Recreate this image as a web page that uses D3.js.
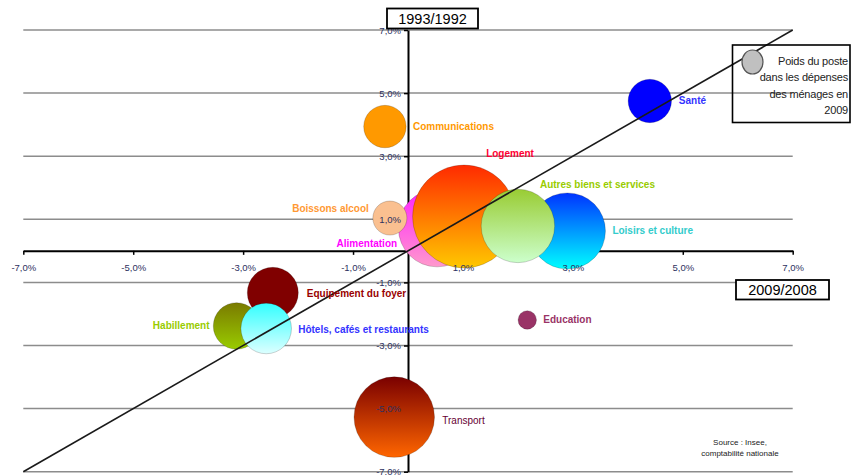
<!DOCTYPE html>
<html>
<head>
<meta charset="utf-8">
<script src="https://cdn.jsdelivr.net/npm/d3@7"></script>
<style>
  html, body { margin: 0; padding: 0; background: #fff; }
  svg { display: block; font-family: "Liberation Sans", Arial, sans-serif; }
</style>
</head>
<body>
<svg id="chart" width="853" height="475"></svg>
<script>
// Évolution des postes de consommation des ménages
// x : évolution 2009/2008 (%), y : évolution 1993/1992 (%), taille : poids du poste en 2009
const categories = [
  "Communications", "Santé", "Loisirs et culture", "Alimentation", "Logement",
  "Boissons alcool", "Autres biens et services", "Equipement du foyer",
  "Habillement", "Hôtels, cafés et restaurants", "Education", "Transport"
];
const evol2009 = [-0.42, 4.40, 2.90, 0.53, 1.02, -0.33, 2.00, -2.46, -3.12, -2.58, 2.17, -0.25];
const evol1993 = [3.94, 4.75, 0.63, 0.72, 1.09, 1.04, 0.79, -1.33, -2.38, -2.46, -2.19, -5.27];
const poids2009 = [4.5, 4.7, 14.5, 15.0, 26.5, 2.9, 13.5, 6.5, 5.4, 6.4, 0.85, 16.2];

const xTickValues = [-7, -5, -3, -1, 1, 3, 5, 7];
const yTickValues = [-7, -5, -3, -1, 1, 3, 5, 7];
const legendLines = ["Poids du poste", "dans les dépenses", "des ménages en", "2009"];
const sourceLines = ["Source : Insee,", "comptabilité nationale"];

const rows = categories.map((c, i) => ({ cat: c, x: evol2009[i], y: evol1993[i], w: poids2009[i] }));

// Apparence de chaque bulle : dégradé vertical (haut, bas) ou couleur unie
const bubbleFill = {
  "Communications": ["#ff9900"],
  "Santé": ["#0000ff"],
  "Loisirs et culture": ["#0033ff", "#00ffff"],
  "Alimentation": ["#ff22ff", "#ff99cc"],
  "Logement": ["#ff2a00", "#ffc800"],
  "Boissons alcool": ["#fac090"],
  "Autres biens et services": ["#99cc33", "#ccffcc"],
  "Equipement du foyer": ["#800000"],
  "Habillement": ["#7a7a00", "#99cc00"],
  "Hôtels, cafés et restaurants": ["#33ffff", "#ddffff"],
  "Education": ["#993366"],
  "Transport": ["#7a0000", "#ff6600"]
};
const labelStyle = {
  "Communications": { color: "#ff9900", anchor: "start", dx: 28, dy: 0 },
  "Santé": { color: "#3333ff", anchor: "start", dx: 29, dy: 0 },
  "Loisirs et culture": { color: "#33cccc", anchor: "start", dx: 45, dy: 0 },
  "Alimentation": { color: "#ff00ff", anchor: "end", dx: -40, dy: 15 },
  "Logement": { color: "#ff0033", anchor: "middle", dx: 46, dy: -63 },
  "Boissons alcool": { color: "#ff9933", anchor: "end", dx: -21, dy: -10 },
  "Autres biens et services": { color: "#99cc00", anchor: "start", dx: 22, dy: -41 },
  "Equipement du foyer": { color: "#990000", anchor: "start", dx: 34, dy: 1 },
  "Habillement": { color: "#99cc00", anchor: "end", dx: -27, dy: 0 },
  "Hôtels, cafés et restaurants": { color: "#3333ff", anchor: "start", dx: 32, dy: 1 },
  "Education": { color: "#993366", anchor: "start", dx: 16, dy: 0 },
  "Transport": { color: "#660033", anchor: "start", dx: 48, dy: 3, weight: "normal" }
};

const svg = d3.select("#chart");
const x = d3.scaleLinear().domain([-7, 7]).range([23.3, 792.7]);
const y = d3.scaleLinear().domain([-7, 7]).range([471.7, 30]);
const r = d3.scaleSqrt().domain([0, 100]).range([0, 100]);

const fr = d3.formatLocale({ decimal: ",", thousands: " ", grouping: [3], currency: ["", " €"], minus: "-" });
const pct = v => fr.format(".1f")(v) + "%";

// Dégradés
const defs = svg.append("defs");
Object.entries(bubbleFill).forEach(([cat, cols], i) => {
  if (cols.length < 2) return;
  const g = defs.append("linearGradient").attr("id", "grad" + i)
    .attr("x1", 0).attr("y1", 0).attr("x2", 0).attr("y2", 1);
  g.append("stop").attr("offset", "0%").attr("stop-color", cols[0]);
  g.append("stop").attr("offset", "100%").attr("stop-color", cols[1]);
});
const fillOf = cat => {
  const cols = bubbleFill[cat];
  if (cols.length < 2) return cols[0];
  return "url(#grad" + Object.keys(bubbleFill).indexOf(cat) + ")";
};

// Quadrillage horizontal
svg.append("g").selectAll("line").data(yTickValues).join("line")
  .attr("x1", x(-7)).attr("x2", x(7))
  .attr("y1", d => y(d)).attr("y2", d => y(d))
  .attr("stroke", "#8c8c8c").attr("stroke-width", 1.5);

// Axes (traits)
const xAxis = d3.axisBottom(x).tickValues(xTickValues).tickSize(4).tickSizeOuter(0).tickPadding(9).tickFormat(pct);
const yAxis = d3.axisLeft(y).tickValues(yTickValues).tickSize(4).tickSizeOuter(0).tickPadding(3).tickFormat(pct);

const gx = svg.append("g").attr("transform", `translate(0,${y(0)})`).call(xAxis);
const gy = svg.append("g").attr("transform", `translate(${x(0)},0)`).call(yAxis);
[gx, gy].forEach(g => {
  g.select(".domain").attr("stroke", "#000").attr("stroke-width", 2);
  g.selectAll(".tick line").attr("stroke", "#000").attr("stroke-width", 1.5);
});

// Bulles
svg.append("g").selectAll("circle").data(rows).join("circle")
  .attr("cx", d => x(d.x)).attr("cy", d => y(d.y)).attr("r", d => r(d.w))
  .attr("fill", d => fillOf(d.cat))
  .attr("stroke", "rgba(0,0,0,0.18)").attr("stroke-width", 1);

// Étiquettes des graduations au-dessus des bulles
const labelsTop = svg.append("g")
  .attr("font-size", 9.5).attr("fill", "#2e3160");
[gx, gy].forEach(g => {
  g.selectAll(".tick text").each(function () {
    const t = d3.select(this);
    const tick = d3.select(this.parentNode);
    const tr = tick.attr("transform");
    const gt = g.attr("transform");
    const node = labelsTop.append("g").attr("transform", gt).append("g").attr("transform", tr)
      .append("text")
      .attr("x", t.attr("x") || 0).attr("y", t.attr("y") || 0)
      .attr("dy", t.attr("dy"))
      .attr("text-anchor", g === gy ? "end" : "middle")
      .attr("fill", "#2e3160")
      .attr("font-size", 9.5)
      .text(t.text());
    t.remove();
  });
});

// Diagonale y = x
svg.append("line")
  .attr("x1", x(-7)).attr("y1", y(-7)).attr("x2", x(7)).attr("y2", y(7))
  .attr("stroke", "#1a1a1a").attr("stroke-width", 1.6);

// Noms des postes
svg.append("g").selectAll("text").data(rows).join("text")
  .attr("x", d => x(d.x) + labelStyle[d.cat].dx)
  .attr("y", d => y(d.y) + labelStyle[d.cat].dy)
  .attr("dy", "0.35em")
  .attr("text-anchor", d => labelStyle[d.cat].anchor)
  .attr("fill", d => labelStyle[d.cat].color)
  .attr("font-size", 10)
  .attr("font-weight", d => labelStyle[d.cat].weight || "bold")
  .text(d => d.cat);

// Titres des axes dans des cadres
function boxedTitle(text, bx, by, bw, bh) {
  svg.append("rect").attr("x", bx).attr("y", by).attr("width", bw).attr("height", bh)
    .attr("fill", "#fff").attr("stroke", "#000").attr("stroke-width", 1.8);
  svg.append("text").attr("x", bx + bw / 2).attr("y", by + bh / 2).attr("dy", "0.36em")
    .attr("text-anchor", "middle").attr("font-size", 14.5).attr("fill", "#000").text(text);
}
boxedTitle("1993/1992", 387, 8.5, 91, 20);
boxedTitle("2009/2008", 736, 280, 93, 19.5);

// Légende
const lg = svg.append("g");
lg.append("rect").attr("x", 732.5).attr("y", 45).attr("width", 117.5).attr("height", 77.5)
  .attr("fill", "none").attr("stroke", "#000").attr("stroke-width", 1.6);
lg.append("ellipse").attr("cx", 752.5).attr("cy", 62).attr("rx", 10.5).attr("ry", 12)
  .attr("fill", "#c0c0c0").attr("stroke", "#555").attr("stroke-width", 1.2);
lg.selectAll("text").data(legendLines).join("text")
  .attr("x", 848).attr("y", (d, i) => 61 + i * 16.4).attr("dy", "0.35em")
  .attr("text-anchor", "end").attr("font-size", 11).attr("fill", "#222")
  .attr("letter-spacing", -0.2)
  .text(d => d);

// Source
svg.append("g").selectAll("text").data(sourceLines).join("text")
  .attr("x", 740).attr("y", (d, i) => 442 + i * 11.5).attr("dy", "0.35em")
  .attr("text-anchor", "middle").attr("font-size", 8).attr("fill", "#222")
  .text(d => d);
</script>
</body>
</html>
